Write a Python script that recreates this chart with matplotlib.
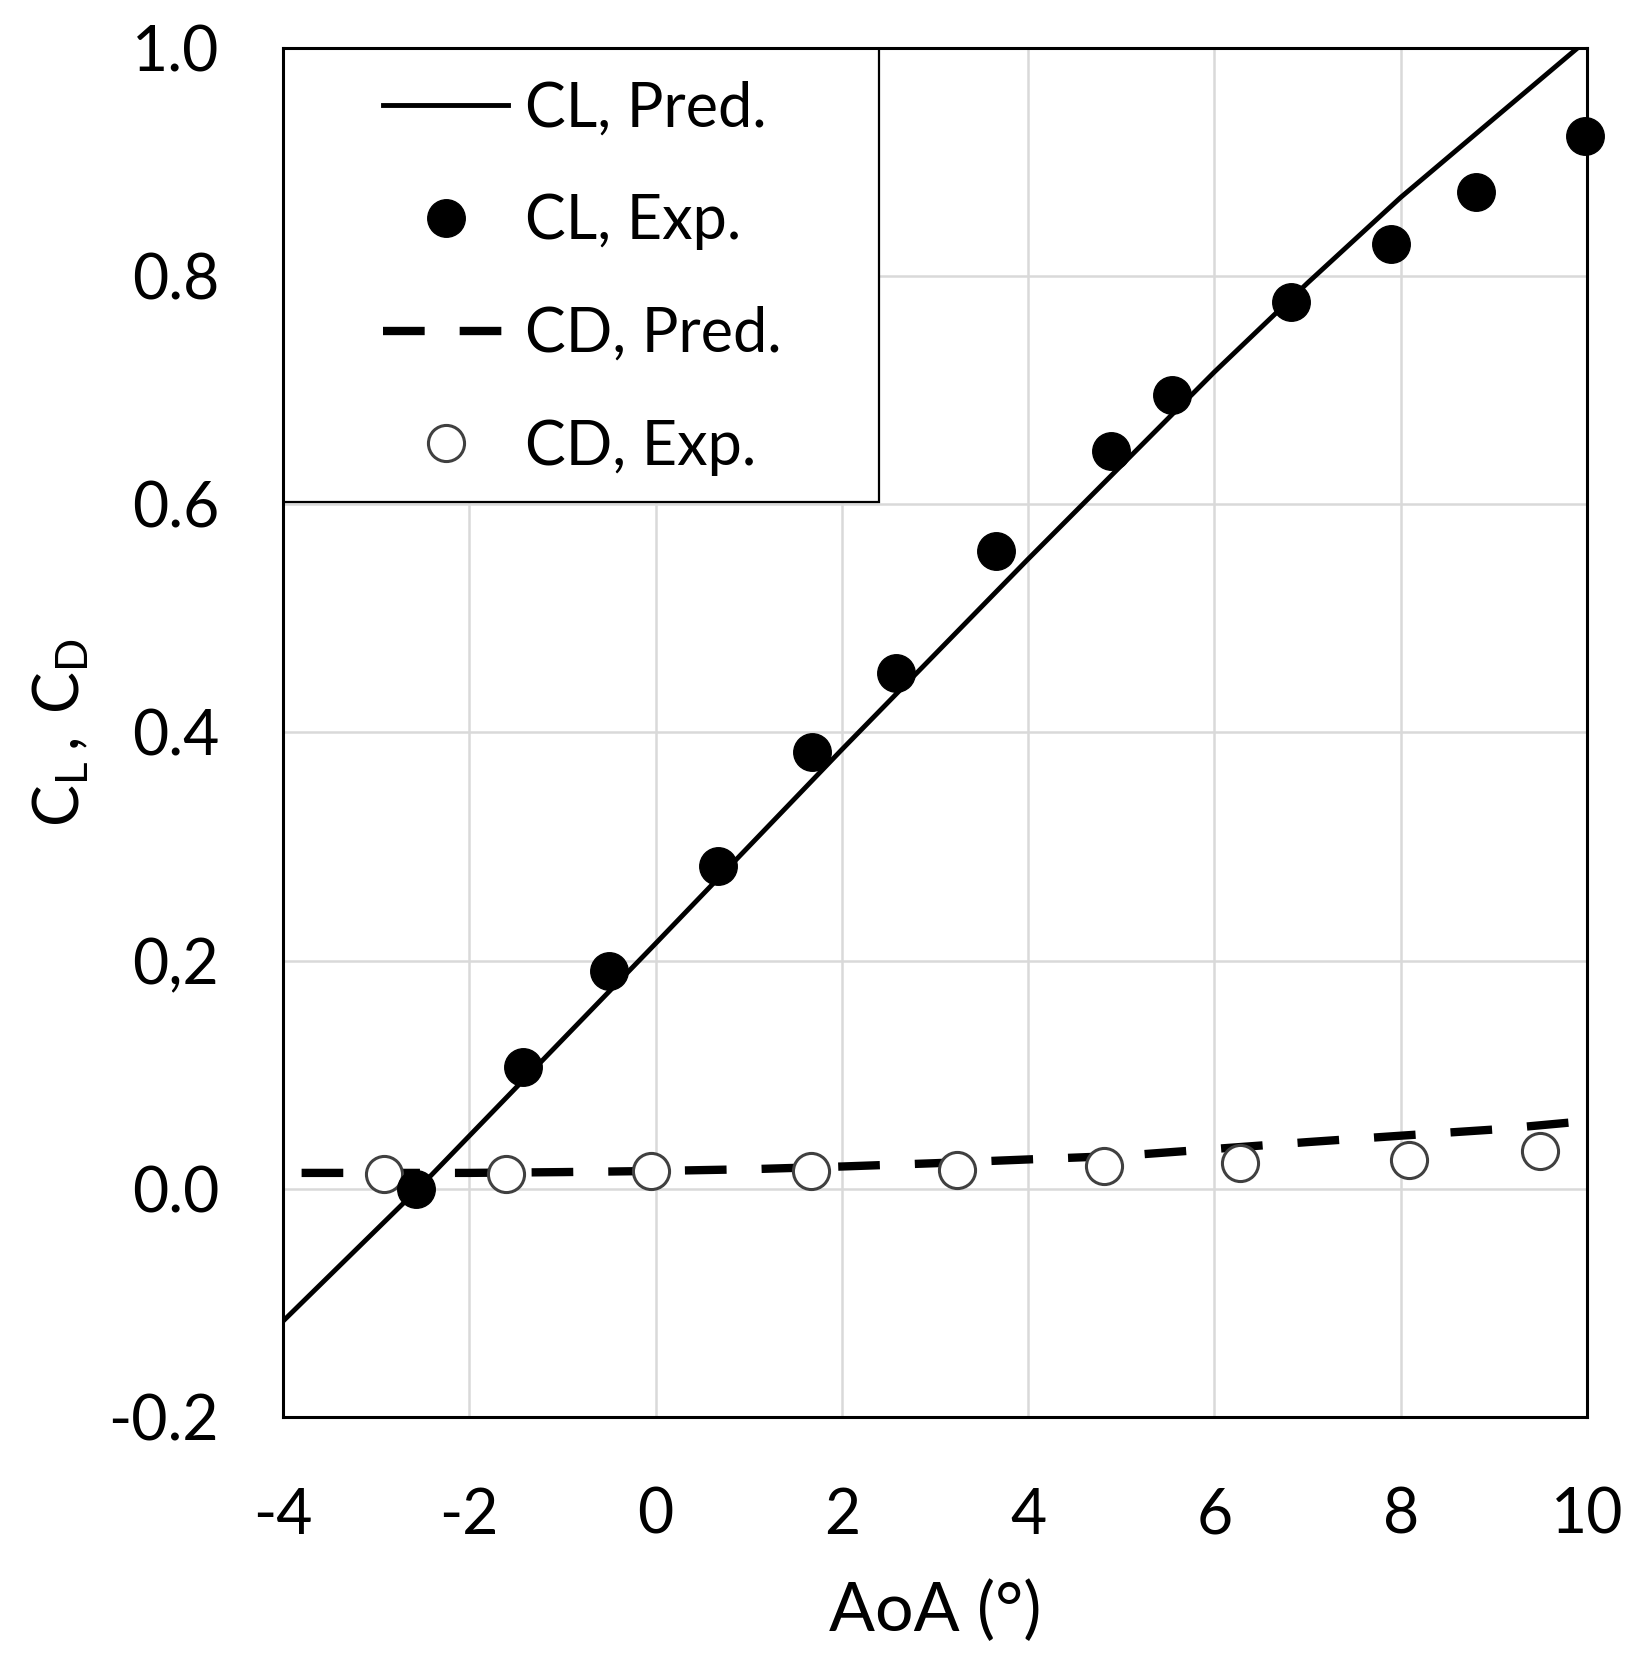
import matplotlib.pyplot as plt
from matplotlib.patches import Rectangle

# data
cl_exp_aoa = [-2.57, -1.42, -0.50, 0.67, 1.68, 2.58, 3.65, 4.89, 5.54, 6.82, 7.90, 8.81, 9.98]
cl_exp = [0.0, 0.107, 0.191, 0.283, 0.383, 0.452, 0.559, 0.647, 0.696, 0.777, 0.828, 0.874, 0.923]

cl_pred_aoa = [-4, -2.55, 0, 2, 4, 6, 7, 8, 9, 9.9]
cl_pred = [-0.116, 0.0, 0.215, 0.385, 0.552, 0.716, 0.794, 0.869, 0.938, 1.0]

cd_pred_aoa = [-3.8, -2, -1, 0, 1, 2, 3, 4, 5, 6, 7, 8, 9, 10]
cd_pred = [0.014, 0.014, 0.0147, 0.0157, 0.0172, 0.0196, 0.0225, 0.0258, 0.029, 0.035, 0.041, 0.0466, 0.052, 0.0595]

cd_exp_aoa = [-2.92, -1.61, -0.05, 1.67, 3.24, 4.82, 6.27, 8.09, 9.50]
cd_exp = [0.0134, 0.0134, 0.016, 0.016, 0.0164, 0.0199, 0.0228, 0.0257, 0.033]

xticks = [-4, -2, 0, 2, 4, 6, 8, 10]
yticks = [-0.2, 0.0, 0.2, 0.4, 0.6, 0.8, 1.0]
ytick_labels = ['-0.2', '0.0', '0,2', '0.4', '0.6', '0.8', '1.0']

plt.rcParams['font.family'] = ['Lato', 'DejaVu Sans']
plt.rcParams['mathtext.fontset'] = 'custom'
plt.rcParams['mathtext.rm'] = 'Lato'

fig = plt.figure(figsize=(16.5, 16.76), dpi=100)
ax = fig.add_axes([0.1715, 0.1545, 0.7903, 0.8169])

ax.plot(cl_pred_aoa, cl_pred, color='black', lw=3.5, label='CL, Pred.', zorder=3)
ax.plot(cl_exp_aoa, cl_exp, 'o', color='black', ms=27, label='CL, Exp.', zorder=5, clip_on=False)
ax.plot(cd_pred_aoa, cd_pred, color='black', lw=6, dashes=(5, 4.2), dash_capstyle='butt',
        label='CD, Pred.', zorder=3)
ax.plot(cd_exp_aoa, cd_exp, 'o', mfc='white', mec='#404040', mew=2.2, ms=26,
        label='CD, Exp.', zorder=4, clip_on=False)

ax.set_xlim(-4, 10)
ax.set_ylim(-0.2, 1.0)
ax.set_xticks(xticks)
ax.set_xticklabels([str(v) for v in xticks])
ax.set_yticks(yticks)
ax.set_yticklabels(ytick_labels)
ax.tick_params(axis='both', length=0, labelsize=45)
ax.tick_params(axis='x', pad=50)
ax.tick_params(axis='y', pad=46)
ax.grid(True, color='#d9d9d9', lw=1.8)
ax.set_axisbelow(True)
for s in ax.spines.values():
    s.set_linewidth(2.2)
    s.set_zorder(6)

ax.set_xlabel('AoA (°)', fontsize=49, labelpad=26)
ax.set_ylabel(r'$\mathregular{C_L\,,\,C_D}$', fontsize=45)
ax.yaxis.set_label_coords(-0.147, 0.5)

# legend box in the upper left corner
ax.add_patch(Rectangle((0, 0.668), 0.457, 0.332, transform=ax.transAxes,
                       facecolor='white', edgecolor='black', lw=1.6, zorder=6))
leg = ax.legend(loc='upper left', bbox_to_anchor=(0.0767, 0.976), frameon=False,
                borderpad=0, borderaxespad=0, handlelength=2.05, handletextpad=0.27,
                labelspacing=0.91, fontsize=44, numpoints=1)
leg.set_zorder(7)

fig.savefig('out.png', dpi=100)
